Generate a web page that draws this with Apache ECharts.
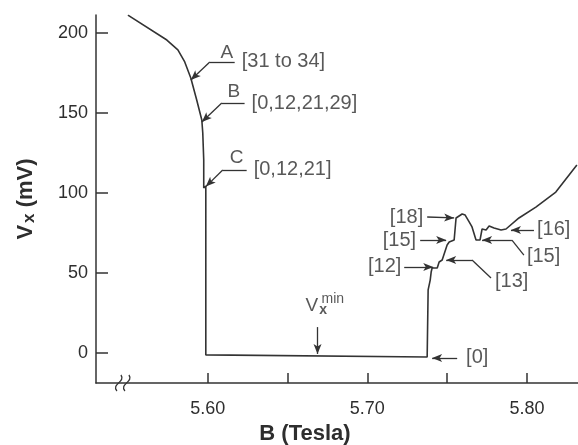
<!DOCTYPE html>
<html>
<head>
<meta charset="utf-8">
<script src="https://cdn.jsdelivr.net/npm/echarts@6/dist/echarts.min.js"></script>
<style>
  html, body { margin: 0; padding: 0; background: #fff; }
  #chart { width: 578px; height: 445px; }
</style>
</head>
<body>
<div id="chart"></div>
<script>
// B field (Tesla) and Vx (mV)
const bField = [
    5.55, 5.5744, 5.5813, 5.5856, 5.5894, 5.5931, 5.5963, 5.5969, 5.5975, 5.5975, 5.5988,
    5.5988, 5.7375, 5.7381, 5.7394, 5.74, 5.7406, 5.7438, 5.745, 5.7469, 5.75, 5.7513,
    5.7544, 5.7556, 5.7594, 5.7613, 5.7638, 5.7656, 5.7681, 5.7688, 5.7706, 5.7719,
    5.7744, 5.7763, 5.7794, 5.7838, 5.7869, 5.795, 5.8056, 5.8181, 5.8313
];
const vx = [
    211.2, 195.6, 189.4, 181.9, 171.9, 158.1, 145.6, 137.5, 120.6, 103.1, 104.4,
    -1.2, -2.5, 39.4, 45.6, 50.6, 53.1, 53.1, 56.9, 58.1, 67.5, 69.4,
    70.6, 84.4, 86.9, 86.2, 81.9, 78.8, 70.6, 69.4, 70.6, 77.5,
    76.9, 79.4, 78.1, 76.9, 77.5, 84.4, 91.2, 100.6, 117.5
];

const xTicks = [5.60, 5.65, 5.70, 5.75, 5.80];
const xTickLabels = [5.60, 5.70, 5.80];
const yTicks = [0, 50, 100, 150, 200];

// leader lines: points from tail to arrow tip
const arrowPaths = [
    [[5.6169, 181.9], [5.6013, 181.9], [5.5894, 170.6]],   // A
    [[5.6231, 156.2], [5.6088, 156.2], [5.5963, 144.4]],   // B
    [[5.6244, 114.4], [5.6094, 114.4], [5.5988, 104.0]],   // C
    [[5.7375, 85.0], [5.7544, 84.4]],                      // [18]
    [[5.7331, 70.6], [5.7494, 70.6]],                      // [15] left
    [[5.7231, 53.8], [5.7413, 53.8]],                      // [12]
    [[5.7775, 46.9], [5.7656, 58.1], [5.7494, 58.1]],      // [13]
    [[5.7981, 61.2], [5.7906, 70.6], [5.7719, 70.6]],      // [15] right
    [[5.8044, 76.9], [5.79, 76.9]],                        // [16]
    [[5.7563, -3.1], [5.7406, -3.1]],                      // [0]
    [[5.6688, 16.2], [5.6688, -0.6]]                       // Vx min
];

// labels anchored at their left edge
const leftLabels = [
    [5.6213, 181.9, '[31 to 34]'],
    [5.6275, 156.2, '[0,12,21,29]'],
    [5.6288, 114.4, '[0,12,21]'],
    [5.78, 44.4, '[13]'],
    [5.80, 60.6, '[15]'],
    [5.8063, 76.9, '[16]'],
    [5.7619, -3.1, '[0]']
];
// labels anchored at their right edge
const rightLabels = [
    [5.735, 85.0, '[18]'],
    [5.7306, 70.6, '[15]'],
    [5.7213, 53.8, '[12]']
];
const letterLabels = [
    [5.6119, 187.5, 'A'],
    [5.6163, 163.1, 'B'],
    [5.6181, 121.9, 'C']
];
const vminLabel = [5.6613, 29.4];
const vminSup = [5.6713, 33.8, 'min'];

const textColor = '#2e2e2e';
const inkColor = '#333';

const chart = echarts.init(document.getElementById('chart'));

const markData = [];
arrowPaths.forEach(path => {
    for (let i = 0; i < path.length - 1; i++) {
        markData.push([
            { coord: path[i], symbol: 'none' },
            { coord: path[i + 1], symbol: i === path.length - 2 ? 'arrow' : 'none' }
        ]);
    }
});

const labelSeries = (data, position, fontSize) => ({
    type: 'scatter',
    data: data,
    symbolSize: 0,
    silent: true,
    label: {
        show: true,
        position: position,
        distance: 0,
        formatter: p => p.data[2],
        color: textColor,
        fontSize: fontSize,
        fontFamily: 'Liberation Sans, Arial, sans-serif'
    }
});

chart.setOption({
    animation: false,
    textStyle: { fontFamily: 'Liberation Sans, Arial, sans-serif' },
    grid: { left: 96, right: 0, top: 15, bottom: 62, outerBoundsMode: 'none' },
    xAxis: {
        type: 'value',
        min: 5.53,
        max: 5.832,
        name: 'B (Tesla)',
        nameLocation: 'middle',
        nameGap: 39,
        nameTextStyle: {
            color: textColor, fontSize: 22, fontWeight: 'bold',
            padding: [0, 64, 0, 0]
        },
        axisLine: { onZero: false, lineStyle: { color: inkColor, width: 1.5 } },
        axisTick: {
            inside: true, length: 10, customValues: xTicks,
            lineStyle: { color: inkColor, width: 1.5 }
        },
        axisLabel: {
            customValues: xTickLabels,
            formatter: v => v.toFixed(2),
            color: textColor, fontSize: 18, margin: 17
        },
        splitLine: { show: false }
    },
    yAxis: {
        type: 'value',
        min: -18.75,
        max: 211.25,
        name: '{v|V}{s|x}{v| (mV)}',
        nameLocation: 'middle',
        nameRotate: 90,
        nameGap: 58,
        nameTextStyle: {
            rich: {
                v: { fontSize: 22, fontWeight: 'bold', color: textColor },
                s: { fontSize: 17, fontWeight: 'bold', color: textColor, padding: [8, 0, 0, 2] }
            }
        },
        axisLine: { onZero: false, lineStyle: { color: inkColor, width: 1.5 } },
        axisTick: {
            inside: true, length: 12, customValues: yTicks,
            lineStyle: { color: inkColor, width: 1.5 }
        },
        axisLabel: {
            customValues: yTicks,
            color: textColor, fontSize: 18, margin: 8
        },
        splitLine: { show: false }
    },
    series: [
        {
            type: 'line',
            data: bField.map((b, i) => [b, vx[i]]),
            symbol: 'none',
            lineStyle: { color: inkColor, width: 1.6 },
            markLine: {
                silent: true,
                symbolSize: [6, 10],
                label: { show: false },
                lineStyle: { color: inkColor, width: 1.3, type: 'solid' },
                data: markData
            }
        },
        labelSeries(leftLabels, 'right', 20),
        labelSeries(rightLabels, 'left', 20),
        labelSeries(letterLabels, 'inside', 19),
        labelSeries([vminSup], 'right', 14),
        {
            type: 'scatter',
            data: [vminLabel],
            symbolSize: 0,
            silent: true,
            label: {
                show: true,
                position: 'right',
                distance: 0,
                formatter: '{v|V}{s|x}',
                rich: {
                    v: { fontSize: 19, color: textColor },
                    s: { fontSize: 14, color: textColor, fontWeight: 'bold', padding: [9, 0, 0, 1] }
                }
            }
        }
    ]
});

// axis break mark on the B axis
const bp = chart.convertToPixel({ gridIndex: 0 }, [5.5475, -18.75]);
const squiggle = dx => ({
    type: 'bezierCurve',
    shape: { x1: dx - 3, y1: 8, x2: dx + 1, y2: -8, cpx1: dx - 9, cpy1: 1, cpx2: dx + 6, cpy2: -1 },
    style: { stroke: inkColor, lineWidth: 1.3, fill: 'none' }
});
chart.setOption({
    graphic: [{
        type: 'group',
        x: bp[0],
        y: bp[1],
        children: [squiggle(-4), squiggle(4)]
    }]
});
</script>
</body>
</html>
